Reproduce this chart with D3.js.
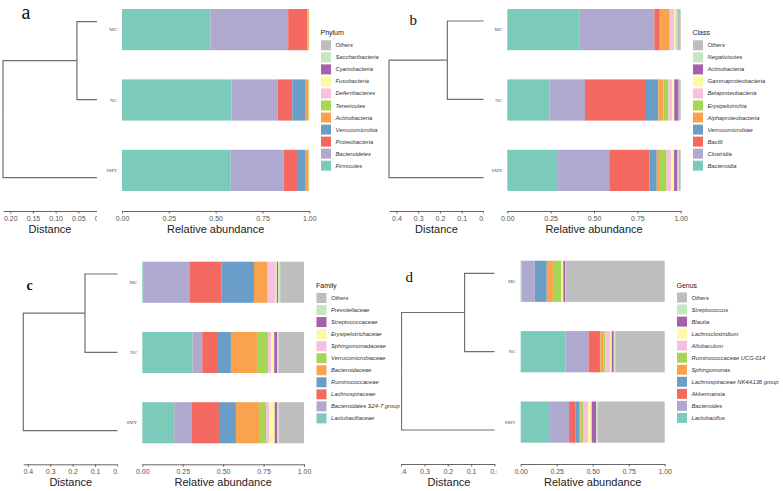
<!DOCTYPE html>
<html>
<head>
<meta charset="utf-8">
<script src="https://cdn.jsdelivr.net/npm/d3@7"></script>
<style>
   body { margin: 0; background: #fff; }
   svg { display: block; }
</style>
</head>
<body>
<div id="chart"></div>
<script>
// samples, top to bottom
const samples = ["MC", "NC", "SMY"];

// taxa in stacking order (left to right); the legend shows them reversed
const phylumTaxa = ["Firmicutes", "Bacteroidetes", "Proteobacteria", "Verrucomicrobia", "Actinobacteria",
   "Tenericutes", "Deferribacteres", "Fusobacteria", "Cyanobacteria", "Saccharibacteria", "Others"];
const phylumMC  = [0.472, 0.415, 0.103, 0.001, 0.006, 0.001, 0.0005, 0.0003, 0.0002, 0.0001, 0.0009];
const phylumNC  = [0.585, 0.246, 0.078, 0.068, 0.019, 0.002, 0.001, 0.0003, 0.0003, 0.0002, 0.0002];
const phylumSMY = [0.580, 0.283, 0.071, 0.043, 0.019, 0.002, 0.001, 0.0003, 0.0003, 0.0002, 0.0002];

const classTaxa = ["Bacteroidia", "Clostridia", "Bacilli", "Verrucomicrobiae", "Alphaproteobacteria",
   "Erysipelotrichia", "Betaproteobacteria", "Gammaproteobacteria", "Actinobacteria", "Negativicutes", "Others"];
const classMC  = [0.415, 0.433, 0.031, 0.002, 0.054, 0.004, 0.023, 0.010, 0.002, 0.006, 0.020];
const classNC  = [0.244, 0.204, 0.352, 0.071, 0.029, 0.029, 0.023, 0.011, 0.025, 0.002, 0.010];
const classSMY = [0.287, 0.301, 0.231, 0.043, 0.019, 0.038, 0.025, 0.018, 0.019, 0.006, 0.013];

const familyTaxa = ["Lactobacillaceae", "Bacteroidales S24-7 group", "Lachnospiraceae", "Ruminococcaceae",
   "Bacteroidaceae", "Verrucomicrobiaceae", "Sphingomonadaceae", "Erysipelotrichaceae", "Streptococcaceae",
   "Prevotellaceae", "Others"];
const familyMC  = [0.010, 0.285, 0.196, 0.200, 0.084, 0.001, 0.050, 0.006, 0.008, 0.013, 0.147];
const familyNC  = [0.311, 0.060, 0.091, 0.086, 0.161, 0.068, 0.019, 0.020, 0.017, 0.010, 0.157];
const familySMY = [0.198, 0.109, 0.167, 0.105, 0.143, 0.043, 0.021, 0.033, 0.014, 0.010, 0.157];

const genusTaxa = ["Lactobacillus", "Bacteroides", "Akkermansia", "Lachnospiraceae NK4A136 group",
   "Sphingomonas", "Ruminococcaceae UCG-014", "Allobaculum", "Lachnoclostridium", "Blautia",
   "Streptococcus", "Others"];
const genusMC  = [0.005, 0.092, 0.001, 0.083, 0.044, 0.057, 0.002, 0.012, 0.014, 0.003, 0.687];
const genusNC  = [0.312, 0.160, 0.072, 0.009, 0.021, 0.014, 0.032, 0.012, 0.014, 0.011, 0.343];
const genusSMY = [0.197, 0.139, 0.046, 0.023, 0.012, 0.016, 0.037, 0.023, 0.032, 0.012, 0.463];

// dendrogram heights: [root, MC-NC merge]
const phylumTree = [0.216, 0.053];
const classTree  = [0.434, 0.166];
const familyTree = [0.420, 0.145];
const genusTree  = [0.398, 0.128];

// tick labels
const phylumDistTicks = [0.20, 0.15, 0.10, 0.05, 0];
const distTicks = [0.4, 0.3, 0.2, 0.1, 0];
const abundanceTicks = [0, 0.25, 0.5, 0.75, 1];

const taxonColors = ["#7ccbba", "#afa8cf", "#f4695f", "#6a9ec8", "#f9a34f", "#a5d654",
   "#f6c1de", "#fdfaa3", "#a65fab", "#c6e8c0", "#bebebe"];

const panels = [
   { letter: "a", lx: 21.5, ly: 19, lsize: 20, lweight: "normal",
     tree: phylumTree, ticks: phylumDistTicks, fmt: ".2f",
     tx0: 3, tx1: 101, clipL: 0, clipR: 97, leafY0: 21.7, leafY1: 177.7,
     bx0: 122, bx1: 309.3, by0: 9, by1: 191, axisY: 211,
     legX: 320.5, legTitleY: 34.5, legY: 45.3, title: "Phylum",
     taxa: phylumTaxa, values: [phylumMC, phylumNC, phylumSMY] },
   { letter: "b", lx: 409.5, ly: 25, lsize: 15, lweight: "normal",
     tree: classTree, ticks: distTicks, fmt: ".1f",
     tx0: 389, tx1: 483.5, clipL: 386, clipR: 484, leafY0: 21, leafY1: 177.7,
     bx0: 507.3, bx1: 680.7, by0: 9, by1: 191, axisY: 211,
     legX: 692.5, legTitleY: 34.5, legY: 45.3, title: "Class",
     taxa: classTaxa, values: [classMC, classNC, classSMY] },
   { letter: "c", lx: 26.5, ly: 289.5, lsize: 14, lweight: "bold",
     tree: familyTree, ticks: distTicks, fmt: ".1f",
     tx0: 23.3, tx1: 117.5, clipL: 20, clipR: 118.3, leafY0: 274, leafY1: 430.7,
     bx0: 142.3, bx1: 304, by0: 261.7, by1: 443.3, axisY: 464.3,
     legX: 316, legTitleY: 287.7, legY: 298, title: "Family",
     taxa: familyTaxa, values: [familyMC, familyNC, familySMY] },
   { letter: "d", lx: 405.5, ly: 281.7, lsize: 15, lweight: "normal",
     tree: genusTree, ticks: distTicks, fmt: ".1f",
     tx0: 401.5, tx1: 494.5, clipL: 401, clipR: 496.5, leafY0: 273.3, leafY1: 430,
     bx0: 520.7, bx1: 664.7, by0: 260.7, by1: 442.7, axisY: 464,
     legX: 676.5, legTitleY: 287.7, legY: 297.5, title: "Genus",
     taxa: genusTaxa, values: [genusMC, genusNC, genusSMY] }
];

const svg = d3.select('#chart').append('svg')
   .attr('width', 783)
   .attr('height', 491)
   .style('font-family', '"Liberation Sans", Arial, sans-serif');

const styleAxis = (sel, size) => {
   sel.select('.domain').attr('stroke', '#555').attr('stroke-width', 0.9);
   sel.selectAll('.tick line').attr('stroke', '#555').attr('stroke-width', 0.9);
   sel.selectAll('.tick text')
      .attr('fill', '#555')
      .attr('font-size', size)
      .attr('font-family', '"Liberation Sans", Arial, sans-serif')
      .attr('y', 5);
};

panels.forEach((p, idx) => {
   const g = svg.append('g');

   // panel letter
   g.append('text')
      .attr('x', p.lx)
      .attr('y', p.ly)
      .attr('font-family', '"Liberation Serif", "DejaVu Serif", serif')
      .attr('font-size', p.lsize)
      .attr('font-weight', p.lweight)
      .attr('fill', '#111')
      .text(p.letter);

   // dendrogram
   const dx = d3.scaleLinear().domain([p.tree[0], 0]).range([p.tx0, p.tx1]);
   const dy = d3.scalePoint().domain(samples).range([p.leafY0, p.leafY1]);

   const clipId = 'clip' + idx;
   svg.append('clipPath').attr('id', clipId)
      .append('rect')
      .attr('x', p.clipL)
      .attr('y', p.leafY0 - 25)
      .attr('width', p.clipR - p.clipL)
      .attr('height', p.axisY - p.leafY0 + 40);

   const tg = g.append('g').attr('clip-path', `url(#${clipId})`);

   const root = d3.hierarchy({ h: p.tree[0], children: [
      { h: p.tree[1], children: [{ name: samples[0], h: 0 }, { name: samples[1], h: 0 }] },
      { name: samples[2], h: 0 }
   ] });
   root.eachAfter(n => {
      n.py = n.children ? d3.mean(n.children, c => c.py) : dy(n.data.name);
   });

   tg.selectAll('path.link')
      .data(root.links())
      .enter()
         .append('path')
         .attr('class', 'link')
         .attr('fill', 'none')
         .attr('stroke', '#707070')
         .attr('stroke-width', 1.2)
         .attr('d', l => `M${dx(l.source.data.h)},${l.source.py}V${l.target.py}H${dx(l.target.data.h)}`);

   tg.append('g')
      .attr('transform', `translate(0,${p.axisY})`)
      .call(d3.axisBottom(dx).tickValues(p.ticks).tickFormat(d3.format(p.fmt)).tickSize(2.5).tickSizeOuter(0))
      .call(sel => styleAxis(sel, 7));

   g.append('text')
      .attr('x', (p.tx0 + p.clipR) / 2)
      .attr('y', p.axisY + 22)
      .attr('text-anchor', 'middle')
      .attr('font-size', 11)
      .attr('fill', '#222')
      .text('Distance');

   // stacked bars
   const bx = d3.scaleLinear().domain([0, 1]).range([p.bx0, p.bx1]);
   const by = d3.scaleBand().domain(samples).range([p.by0, p.by1]).paddingInner(0.415);
   const color = d3.scaleOrdinal().domain(p.taxa).range(taxonColors);

   const rows = samples.map((s, i) => {
      const row = { sample: s };
      p.taxa.forEach((t, j) => { row[t] = p.values[i][j]; });
      return row;
   });
   const layers = d3.stack().keys(p.taxa)(rows);

   g.append('g')
      .selectAll('g')
      .data(layers)
      .enter()
         .append('g')
         .attr('fill', d => color(d.key))
         .selectAll('rect')
         .data(d => d)
         .enter()
            .append('rect')
            .attr('x', d => bx(d[0]))
            .attr('width', d => Math.max(0, bx(d[1]) - bx(d[0])))
            .attr('y', d => by(d.data.sample))
            .attr('height', by.bandwidth());

   // sample labels
   g.selectAll('text.sample')
      .data(samples)
      .enter()
         .append('text')
         .attr('class', 'sample')
         .attr('x', p.bx0 - 5)
         .attr('y', s => by(s) + by.bandwidth() / 2 + 1.6)
         .attr('text-anchor', 'end')
         .attr('font-family', '"Liberation Serif", "DejaVu Serif", serif')
         .attr('font-size', 5)
         .attr('fill', '#555')
         .text(s => s);

   g.append('g')
      .attr('transform', `translate(0,${p.axisY})`)
      .call(d3.axisBottom(bx).tickValues(abundanceTicks).tickFormat(d3.format('.2f')).tickSize(2.5).tickSizeOuter(0))
      .call(sel => styleAxis(sel, 7));

   g.append('text')
      .attr('x', (p.bx0 + p.bx1) / 2)
      .attr('y', p.axisY + 22)
      .attr('text-anchor', 'middle')
      .attr('font-size', 11)
      .attr('fill', '#222')
      .text('Relative abundance');

   // legend
   const leg = g.append('g');
   leg.append('text')
      .attr('x', p.legX)
      .attr('y', p.legTitleY)
      .attr('font-size', 7)
      .attr('fill', '#222')
      .text(p.title);

   const items = p.taxa.slice().reverse();
   items.forEach((t, i) => {
      const cy = p.legY + i * 12.04;
      leg.append('rect')
         .attr('x', p.legX + 0.5)
         .attr('y', cy - 5)
         .attr('width', 10)
         .attr('height', 10)
         .attr('fill', color(t));
      leg.append('text')
         .attr('x', p.legX + 15)
         .attr('y', cy + 2)
         .attr('font-size', 5.8)
         .attr('font-style', 'italic')
         .attr('fill', '#333')
         .text(t);
   });
});
</script>
</body>
</html>
